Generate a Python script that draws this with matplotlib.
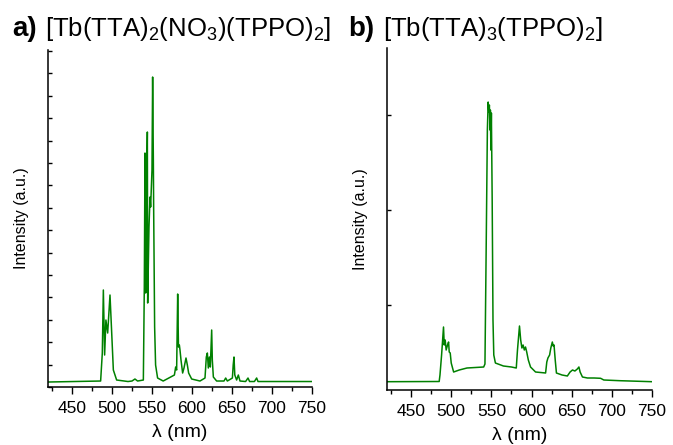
import numpy as np
import matplotlib
matplotlib.use('Agg')
import matplotlib.pyplot as plt

plt.rcParams['font.family'] = ['Liberation Sans', 'DejaVu Sans']
plt.rcParams['mathtext.fontset'] = 'custom'
plt.rcParams['mathtext.rm'] = 'Liberation Sans'
plt.rcParams['mathtext.default'] = 'regular'

# panel a: [Tb(TTA)2(NO3)(TPPO)2] emission spectrum
wl_a = [420, 485.8, 487.9, 489.2, 490.8, 492.4, 494.6, 497.5, 498.75, 501.7, 505.8, 520,
        525, 528.7, 532, 539.2, 540.4, 541.25, 542.1, 543.3, 544.2, 544.6, 546.25, 547.5,
        548.3, 550, 550.8, 551.7, 552.1, 553.3, 554.5, 557, 564, 578, 579.6, 580.8, 582.1,
        583.1, 584.2, 585, 586.25, 588.3, 590, 592.5, 594.2, 595.8, 599.6, 610, 616.25,
        617.9, 619.2, 620.4, 621.7, 622.9, 624.6, 625.4, 626.7, 630.8, 640, 642.1, 644.2,
        650.5, 651.5, 652.5, 653.5, 655.8, 657.9, 660, 667, 670, 672, 678, 680.8, 682.5, 750]
int_a = [5, 6, 34, 97, 32, 67, 54, 92, 70, 17, 7, 5.5,
         6, 8, 6, 7, 100, 234, 94, 194, 255, 84, 160, 190,
         180, 217, 310, 227, 177, 60, 22, 9, 6, 12, 20, 17, 93,
         40, 42, 37, 27, 14, 19, 29, 22, 14, 8, 6, 9,
         30, 34, 19, 30, 20, 57, 27, 10, 6, 6, 9, 6,
         9, 22, 30, 12, 7, 12, 6, 5.5, 9, 5.5, 5.5, 9, 5.5, 5.5]

# panel b: [Tb(TTA)3(TPPO)2] emission spectrum
wl_b = [420, 485, 486, 488, 490.4, 491.3, 492.5, 493.7, 495.4, 496.7, 497.5, 498.75, 500,
        503, 510, 519.6, 530, 540.4, 542, 543.5, 545, 546, 546.8, 547.5, 548.3, 548.75,
        549.4, 550, 551, 552, 553, 555, 565, 575, 581, 582.5, 585, 586.5, 588, 589.5, 591,
        592.5, 594, 596, 598.75, 605, 617.5, 619, 620.4, 622.5, 624, 625.9, 627, 628, 629.5,
        631, 638, 644.6, 648, 651, 654, 657, 659, 660.5, 663.4, 669.6, 678, 686, 690, 710, 750]
int_b = [8.3, 8.5, 15, 35, 63, 45, 50, 40, 45, 48, 38, 37, 27,
         18, 20, 22, 22.5, 23, 26, 140, 260, 288, 278, 285, 260, 280,
         240, 277, 190, 70, 35, 27, 24, 23, 22, 40, 64, 50, 42, 45, 40,
         43, 38, 30, 23, 18, 17, 28, 32, 35, 42, 48, 44, 45, 30,
         17, 15, 14, 18, 20, 19, 21, 23, 18, 13, 12, 12, 11.7, 10, 9.3, 8.3]

xticks = [450, 500, 550, 600, 650, 700, 750]


def style_axis(ax, ylim, yticks):
    ax.set_xlim(420, 750)
    ax.set_ylim(ylim)
    ax.spines['top'].set_visible(False)
    ax.spines['right'].set_visible(False)
    ax.spines['left'].set_linewidth(1.1)
    ax.spines['bottom'].set_linewidth(1.1)
    ax.set_xticks(xticks)
    ax.set_xticks(np.arange(425, 751, 50), minor=True)
    ax.tick_params(axis='x', which='major', direction='out', length=5, width=1, labelsize=12.5, pad=5)
    ax.tick_params(axis='x', which='minor', direction='out', length=3, width=1)
    ax.set_yticks(yticks)
    ax.tick_params(axis='y', which='major', direction='in', length=3, width=1, labelleft=False)
    ax.set_xlabel('λ (nm)', fontsize=14, labelpad=6)
    ax.set_ylabel('Intensity (a.u.)', fontsize=11.5, labelpad=14)


fig = plt.figure(figsize=(6.73, 4.45), dpi=100)
ax1 = fig.add_axes([0.0713, 0.1303, 0.3923, 0.7573])
ax2 = fig.add_axes([0.575, 0.1236, 0.3938, 0.7684])

ax1.plot(wl_a, int_a, color='green', lw=1.1)
style_axis(ax1, (0, 337), np.arange(0, 337, 22.4))

ax2.plot(wl_b, int_b, color='green', lw=1.1)
style_axis(ax2, (0, 342), [85, 180, 275])

fig.text(12 / 673, 1 - 36 / 445, 'a)', fontsize=20, fontweight='bold', va='baseline')
fig.text(45 / 673, 1 - 36 / 445, '[Tb(TTA)$_2$(NO$_3$)(TPPO)$_2$]', fontsize=18.5, va='baseline')
fig.text(348 / 673, 1 - 36 / 445, 'b)', fontsize=20, fontweight='bold', va='baseline')
fig.text(383 / 673, 1 - 36 / 445, '[Tb(TTA)$_3$(TPPO)$_2$]', fontsize=18.5, va='baseline')

plt.savefig('out.png', dpi=100)
